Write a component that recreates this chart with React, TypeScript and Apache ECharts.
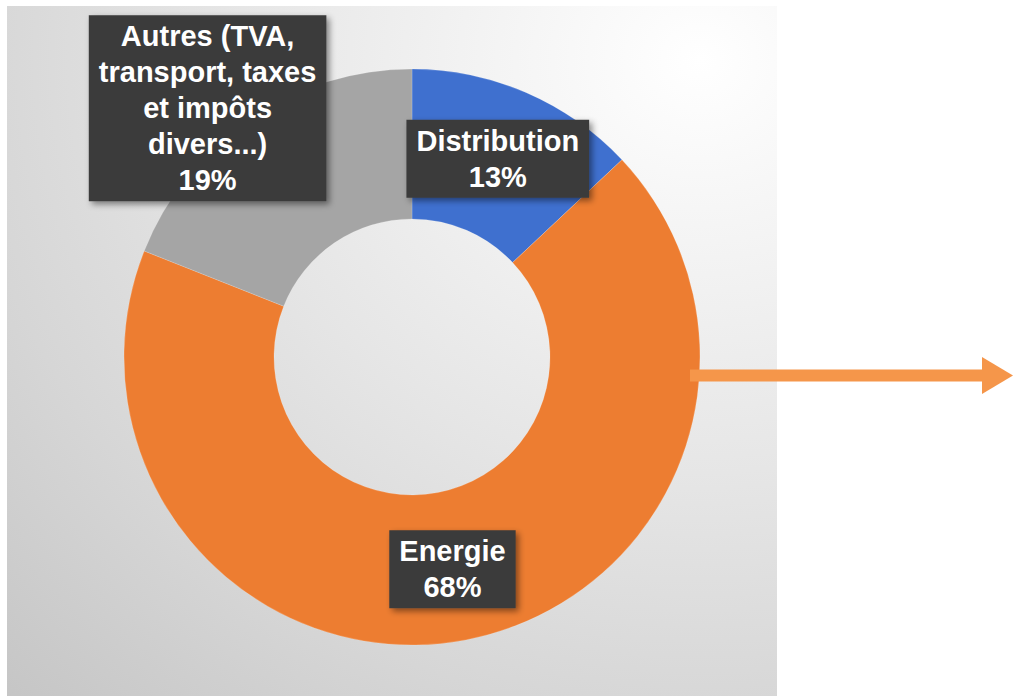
import React, { useEffect, useRef } from "react";
import * as echarts from "echarts";

const categories = [
  "Distribution",
  "Energie",
  "Autres (TVA,\ntransport, taxes\net impôts\ndivers...)",
];
const values = [13, 68, 19];
const sliceColors = ["#3F70CF", "#ED7D31", "#A5A5A5"];

export default function App() {
  const ref = useRef<HTMLDivElement>(null);

  useEffect(() => {
    document.body.style.margin = "0";
    if (!ref.current) return;
    const chart = echarts.init(ref.current, undefined, { renderer: "svg" });
    const option: any = {
      animation: false,
      backgroundColor: "#ffffff",
      graphic: [
        {
          type: "rect",
          z: -10,
          silent: true,
          shape: { x: 7, y: 6, width: 770, height: 690 },
          style: {
            fill: new echarts.graphic.RadialGradient(0.9, 0.078, 1.36, [
              { offset: 0, color: "#ffffff" },
              { offset: 0.44, color: "#e6e6e6" },
              { offset: 0.7, color: "#d6d6d6" },
              { offset: 1, color: "#c2c2c2" },
            ]),
          },
        },
        {
          type: "line",
          z: 10,
          silent: true,
          shape: { x1: 690, y1: 375.5, x2: 985, y2: 375.5 },
          style: { stroke: "#F5964A", lineWidth: 12 },
        },
        {
          type: "polygon",
          z: 10,
          silent: true,
          shape: {
            points: [
              [982, 357],
              [1013, 375.5],
              [982, 394],
            ],
          },
          style: { fill: "#F5964A" },
        },
      ],
      series: [
        {
          type: "pie",
          center: [412, 357],
          radius: [138, 288],
          startAngle: 90,
          clockwise: true,
          avoidLabelOverlap: false,
          silent: true,
          itemStyle: {
            borderColor: "rgba(255,255,255,0.35)",
            borderWidth: 0.5,
          },
          label: {
            show: true,
            position: "inside",
            formatter: (p: any) => `${p.name}\n${Math.round(p.percent)}%`,
            color: "#ffffff",
            fontFamily: "'Liberation Sans', Arial, sans-serif",
            fontWeight: "bold",
            fontSize: 29,
            lineHeight: 36,
            align: "center",
            backgroundColor: "#3a3a3a",
            padding: [3, 10, 3, 10],
            shadowColor: "rgba(0,0,0,0.45)",
            shadowBlur: 6,
            shadowOffsetX: 3,
            shadowOffsetY: 3,
          },
          labelLine: { show: false },
          labelLayout: (params: any) =>
            params.dataIndex === 2 ? { dx: -83, dy: -70 } : {},
          data: categories.map((name, i) => ({
            name,
            value: values[i],
            itemStyle: { color: sliceColors[i] },
          })),
        },
      ],
    };
    chart.setOption(option);
    return () => chart.dispose();
  }, []);

  return <div ref={ref} style={{ width: 1013, height: 696 }} />;
}
